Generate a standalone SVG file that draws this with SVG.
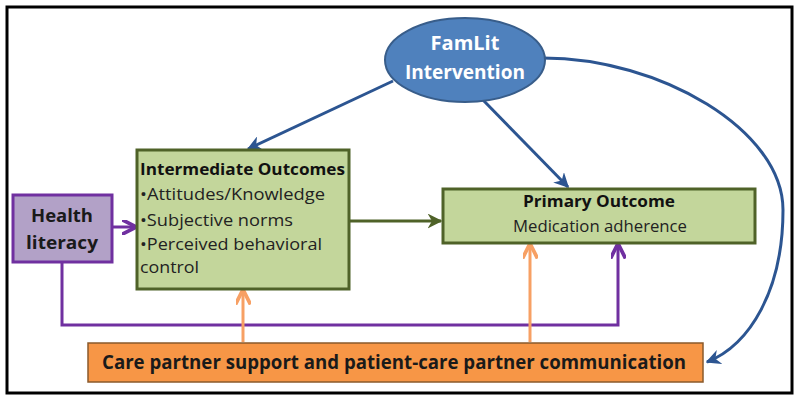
<svg xmlns="http://www.w3.org/2000/svg" width="800" height="400" viewBox="0 0 800 400">
<defs>
<style>
text{font-family:"Open Sans","Liberation Sans",sans-serif;}
.b{font-weight:bold;}
.green{fill:#c3d69b;stroke:#4f6228;stroke-width:3;}
.blue{stroke:#2c5591;stroke-width:3;fill:none;}
.purp{stroke:#7030a0;stroke-width:3;fill:none;}
.orng{stroke:#f7a064;stroke-width:3;fill:none;}
.olv{stroke:#4f6228;stroke-width:3;fill:none;}
</style>
<marker id="ab" viewBox="0 0 10 10" refX="9" refY="5" markerWidth="5" markerHeight="5" orient="auto" markerUnits="strokeWidth"><path d="M0,0 L10,5 L0,10 L3,5 z" fill="#2c5591"/></marker>
<marker id="ap" viewBox="0 0 10 10" refX="9" refY="5" markerWidth="5" markerHeight="5" orient="auto" markerUnits="strokeWidth"><path d="M0,0 L10,5 L0,10" fill="none" stroke="#7030a0" stroke-width="2.5"/></marker>
<marker id="ao" viewBox="0 0 10 10" refX="9" refY="5" markerWidth="5" markerHeight="5" orient="auto" markerUnits="strokeWidth"><path d="M0,0 L10,5 L0,10" fill="none" stroke="#f7a064" stroke-width="2.5"/></marker>
<marker id="ag" viewBox="0 0 10 10" refX="9" refY="5" markerWidth="5" markerHeight="5" orient="auto" markerUnits="strokeWidth"><path d="M0,0 L10,5 L0,10 L3,5 z" fill="#4f6228"/></marker>
</defs>
<rect x="0" y="0" width="800" height="400" fill="#ffffff"/>
<rect x="7" y="7" width="785" height="386" fill="none" stroke="#000" stroke-width="3"/>

<g id="connectors">
<line class="blue" x1="393" y1="81" x2="248" y2="149" marker-end="url(#ab)"/>
<line class="blue" x1="483" y1="100" x2="568" y2="187" marker-end="url(#ab)"/>
<path class="blue" d="M543,58 C660,58 783,130 783,210 C783,290 750,345 707,362" marker-end="url(#ab)"/>
<line class="olv" x1="350" y1="221" x2="441" y2="221" marker-end="url(#ag)"/>
<line class="purp" x1="113" y1="227" x2="135" y2="227" marker-end="url(#ap)"/>
<path class="purp" d="M62,263 V325 H618 V245" marker-end="url(#ap)"/>
<line class="orng" x1="243" y1="342" x2="243" y2="291" marker-end="url(#ao)"/>
<line class="orng" x1="530" y1="342" x2="530" y2="245" marker-end="url(#ao)"/>
</g>

<g id="famlit">
<ellipse cx="465" cy="60" rx="80" ry="42" fill="#4f81bd" stroke="#385d8a" stroke-width="2"/>
<text class="b" x="465" y="50" text-anchor="middle" font-size="20" fill="#fff">FamLit</text>
<text class="b" x="465" y="79" text-anchor="middle" font-size="20" fill="#fff" textLength="120" lengthAdjust="spacingAndGlyphs">Intervention</text>
</g>

<g id="intermediate">
<rect class="green" x="137" y="150" width="212" height="139"/>
<text class="b" x="140" y="175" font-size="16" fill="#111" textLength="205" lengthAdjust="spacingAndGlyphs">Intermediate Outcomes</text>
<text x="140" y="200" font-size="17" fill="#222" textLength="185" lengthAdjust="spacingAndGlyphs">•Attitudes/Knowledge</text>
<text x="140" y="226" font-size="17" fill="#222" textLength="153" lengthAdjust="spacingAndGlyphs">•Subjective norms</text>
<text x="140" y="250" font-size="17" fill="#222" textLength="182" lengthAdjust="spacingAndGlyphs">•Perceived behavioral</text>
<text x="140" y="273" font-size="17" fill="#222" textLength="59" lengthAdjust="spacingAndGlyphs">control</text>
</g>

<g id="health">
<rect x="13" y="195" width="99" height="67" fill="#b2a1c7" stroke="#7030a0" stroke-width="3"/>
<text class="b" x="62" y="222" text-anchor="middle" font-size="17" fill="#1a1a1a" textLength="62" lengthAdjust="spacingAndGlyphs">Health</text>
<text class="b" x="62" y="249" text-anchor="middle" font-size="17" fill="#1a1a1a" textLength="72" lengthAdjust="spacingAndGlyphs">literacy</text>
</g>

<g id="primary">
<rect class="green" x="443" y="189" width="312" height="54"/>
<text class="b" x="599" y="207" text-anchor="middle" font-size="16" fill="#111" textLength="152" lengthAdjust="spacingAndGlyphs">Primary Outcome</text>
<text x="600" y="232" text-anchor="middle" font-size="16" fill="#222" textLength="174" lengthAdjust="spacingAndGlyphs">Medication adherence</text>
</g>

<g id="care">
<rect x="88" y="343" width="615" height="39" fill="#f79646" stroke="#8a5a2b" stroke-width="1.5"/>
<text class="b" x="394" y="369" text-anchor="middle" font-size="19" fill="#1a1a1a" textLength="584" lengthAdjust="spacingAndGlyphs">Care partner support and patient-care partner communication</text>
</g>
</svg>
